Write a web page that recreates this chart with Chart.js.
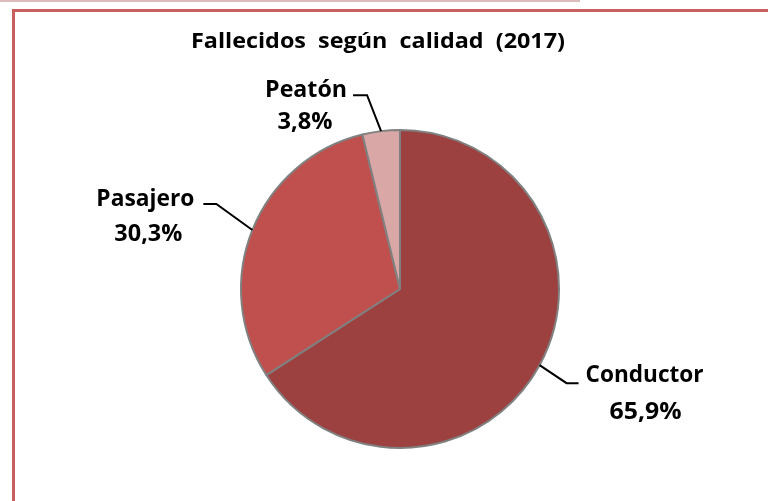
<!DOCTYPE html>
<html>
<head>
<meta charset="utf-8">
<script src="https://cdn.jsdelivr.net/npm/chart.js@4/dist/chart.umd.min.js"></script>
<style>
  html, body { margin: 0; padding: 0; background: #fff; overflow: hidden; }
  #topline { position: absolute; left: 0; top: 0; width: 580px; height: 2px; background: #dcbcbc; }
  #frame { position: absolute; left: 12px; top: 9px; width: 800px; height: 560px;
           border-left: 3px solid #c9605d; border-top: 3px solid #c9605d; }
  #wrap { position: absolute; left: 0; top: 0; width: 768px; height: 501px; }
</style>
</head>
<body>
<div id="topline"></div>
<div id="frame"></div>
<div id="wrap"><canvas id="c" width="768" height="501"></canvas></div>
<script>
// Fallecidos según calidad (2017)
const TITLE = 'Fallecidos  según  calidad  (2017)';
const categories = ['Conductor', 'Pasajero', 'Peatón'];
const percents = [65.9, 30.3, 3.8];
const percentLabels = ['65,9%', '30,3%', '3,8%'];
const colors = ['#9c4140', '#c0504d', '#d9a7a6'];

// Leader-line geometry per slice (relative to the slice's outer mid point),
// plus the widths the label texts take in the original (Calibri) rendering
const LEADERS = [
  { elbow: [27, 18], endX: 39, name: [66, -8], pct: [67, 29], nameW: 118, pctW: 72 },
  { elbow: [-36, -26], endX: -49, name: [-58, -5], pct: [-55, 30], nameW: 98, pctW: 68 },
  { elbow: [-14, -36], endX: -28, name: [-47, -5], pct: [-48, 27], nameW: 82, pctW: 55 },
];

const FONT = 'bold 23px "Open Sans", Lato, sans-serif';

// draws text squeezed to a given width (Calibri-like metrics)
function fitText(ctx, text, x, y, width) {
  const w = ctx.measureText(text).width;
  ctx.save();
  ctx.translate(x, y);
  ctx.scale(width / w, 1);
  ctx.fillText(text, 0, 0);
  ctx.restore();
}

const labelPlugin = {
  id: 'leaderLabels',
  afterDraw(chart) {
    const ctx = chart.ctx;
    const meta = chart.getDatasetMeta(0);
    ctx.save();
    // title
    ctx.fillStyle = '#000';
    ctx.font = 'bold 21px "Open Sans", Lato, sans-serif';
    ctx.textAlign = 'center';
    ctx.textBaseline = 'middle';
    fitText(ctx, TITLE, 378, 42, 374);

    meta.data.forEach((arc, i) => {
      const p = arc.getProps(['x', 'y', 'startAngle', 'endAngle', 'outerRadius'], true);
      const mid = (p.startAngle + p.endAngle) / 2;
      const ax = p.x + Math.cos(mid) * p.outerRadius;
      const ay = p.y + Math.sin(mid) * p.outerRadius;
      const L = LEADERS[i];
      const ex = ax + L.elbow[0], ey = ay + L.elbow[1];
      const tx = ax + L.endX;
      ctx.strokeStyle = '#000';
      ctx.lineWidth = 2;
      ctx.beginPath();
      ctx.moveTo(ax, ay);
      ctx.lineTo(ex, ey);
      ctx.lineTo(tx, ey);
      ctx.stroke();
      ctx.font = FONT;
      ctx.fillStyle = '#000';
      fitText(ctx, categories[i], tx + L.name[0], ey + L.name[1], L.nameW);
      fitText(ctx, percentLabels[i], tx + L.pct[0], ey + L.pct[1], L.pctW);
    });
    ctx.restore();
  }
};

new Chart(document.getElementById('c'), {
  type: 'pie',
  data: {
    labels: categories,
    datasets: [{
      data: percents,
      backgroundColor: colors,
      borderColor: '#808080',
      borderWidth: 2,
    }],
  },
  options: {
    responsive: false,
    animation: false,
    layout: { padding: { left: 240, right: 208, top: 128, bottom: 51 } },
    plugins: {
      legend: { display: false },
      title: { display: false },
      tooltip: { enabled: false },
    },
  },
  plugins: [labelPlugin],
});
</script>
</body>
</html>
